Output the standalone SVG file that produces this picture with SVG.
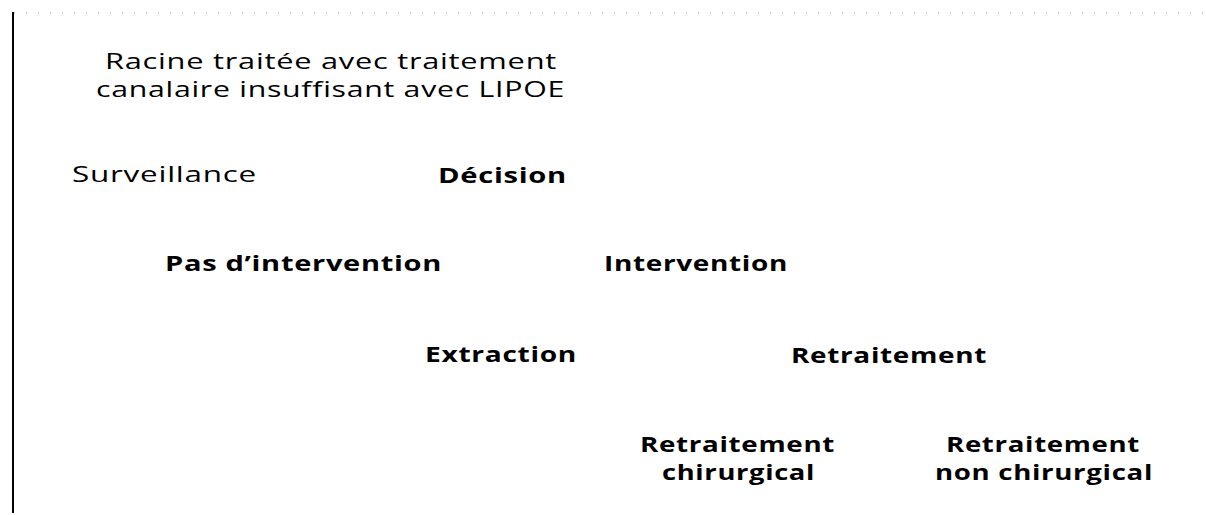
<svg xmlns="http://www.w3.org/2000/svg" width="1206" height="515" viewBox="0 0 1206 515">
  <style>
    .t { font-family: "Open Sans", "Liberation Sans", sans-serif; font-size: 21px; fill: #000; letter-spacing: 0.5px; }
    .r { font-weight: 400; }
    .b { font-weight: 700; }
    .frame { stroke: #000; stroke-width: 2; fill: none; }
    .dots { stroke: #aaa; stroke-width: 1.2; stroke-dasharray: 1 11; fill: none; }
  </style>
  <rect x="0" y="0" width="1206" height="515" fill="#fff"/>
  <g id="frame">
    <line class="frame" x1="13" y1="12" x2="13" y2="513"/>
    <line class="dots" x1="14" y1="13" x2="1206" y2="13"/>
  </g>
  <g id="connectors"></g>
  <g id="node-racine">
    <text class="t r" x="105" y="69" textLength="452" lengthAdjust="spacingAndGlyphs">Racine traitée avec traitement</text>
    <text class="t r" x="96" y="97" textLength="469" lengthAdjust="spacingAndGlyphs">canalaire insuffisant avec LIPOE</text>
  </g>
  <g id="node-surveillance">
    <text class="t r" x="72" y="182" textLength="185" lengthAdjust="spacingAndGlyphs">Surveillance</text>
  </g>
  <g id="node-decision">
    <text class="t b" x="438" y="183" textLength="129" lengthAdjust="spacingAndGlyphs">Décision</text>
  </g>
  <g id="node-pas-intervention">
    <text class="t b" x="165" y="271" textLength="277" lengthAdjust="spacingAndGlyphs">Pas d’intervention</text>
  </g>
  <g id="node-intervention">
    <text class="t b" x="604" y="271" textLength="184" lengthAdjust="spacingAndGlyphs">Intervention</text>
  </g>
  <g id="node-extraction">
    <text class="t b" x="425" y="362" textLength="152" lengthAdjust="spacingAndGlyphs">Extraction</text>
  </g>
  <g id="node-retraitement">
    <text class="t b" x="791" y="363" textLength="196" lengthAdjust="spacingAndGlyphs">Retraitement</text>
  </g>
  <g id="node-retraitement-chirurgical">
    <text class="t b" x="640" y="452" textLength="195" lengthAdjust="spacingAndGlyphs">Retraitement</text>
    <text class="t b" x="662" y="480" textLength="153" lengthAdjust="spacingAndGlyphs">chirurgical</text>
  </g>
  <g id="node-retraitement-non-chirurgical">
    <text class="t b" x="946" y="452" textLength="194" lengthAdjust="spacingAndGlyphs">Retraitement</text>
    <text class="t b" x="935" y="480" textLength="218" lengthAdjust="spacingAndGlyphs">non chirurgical</text>
  </g>
</svg>
